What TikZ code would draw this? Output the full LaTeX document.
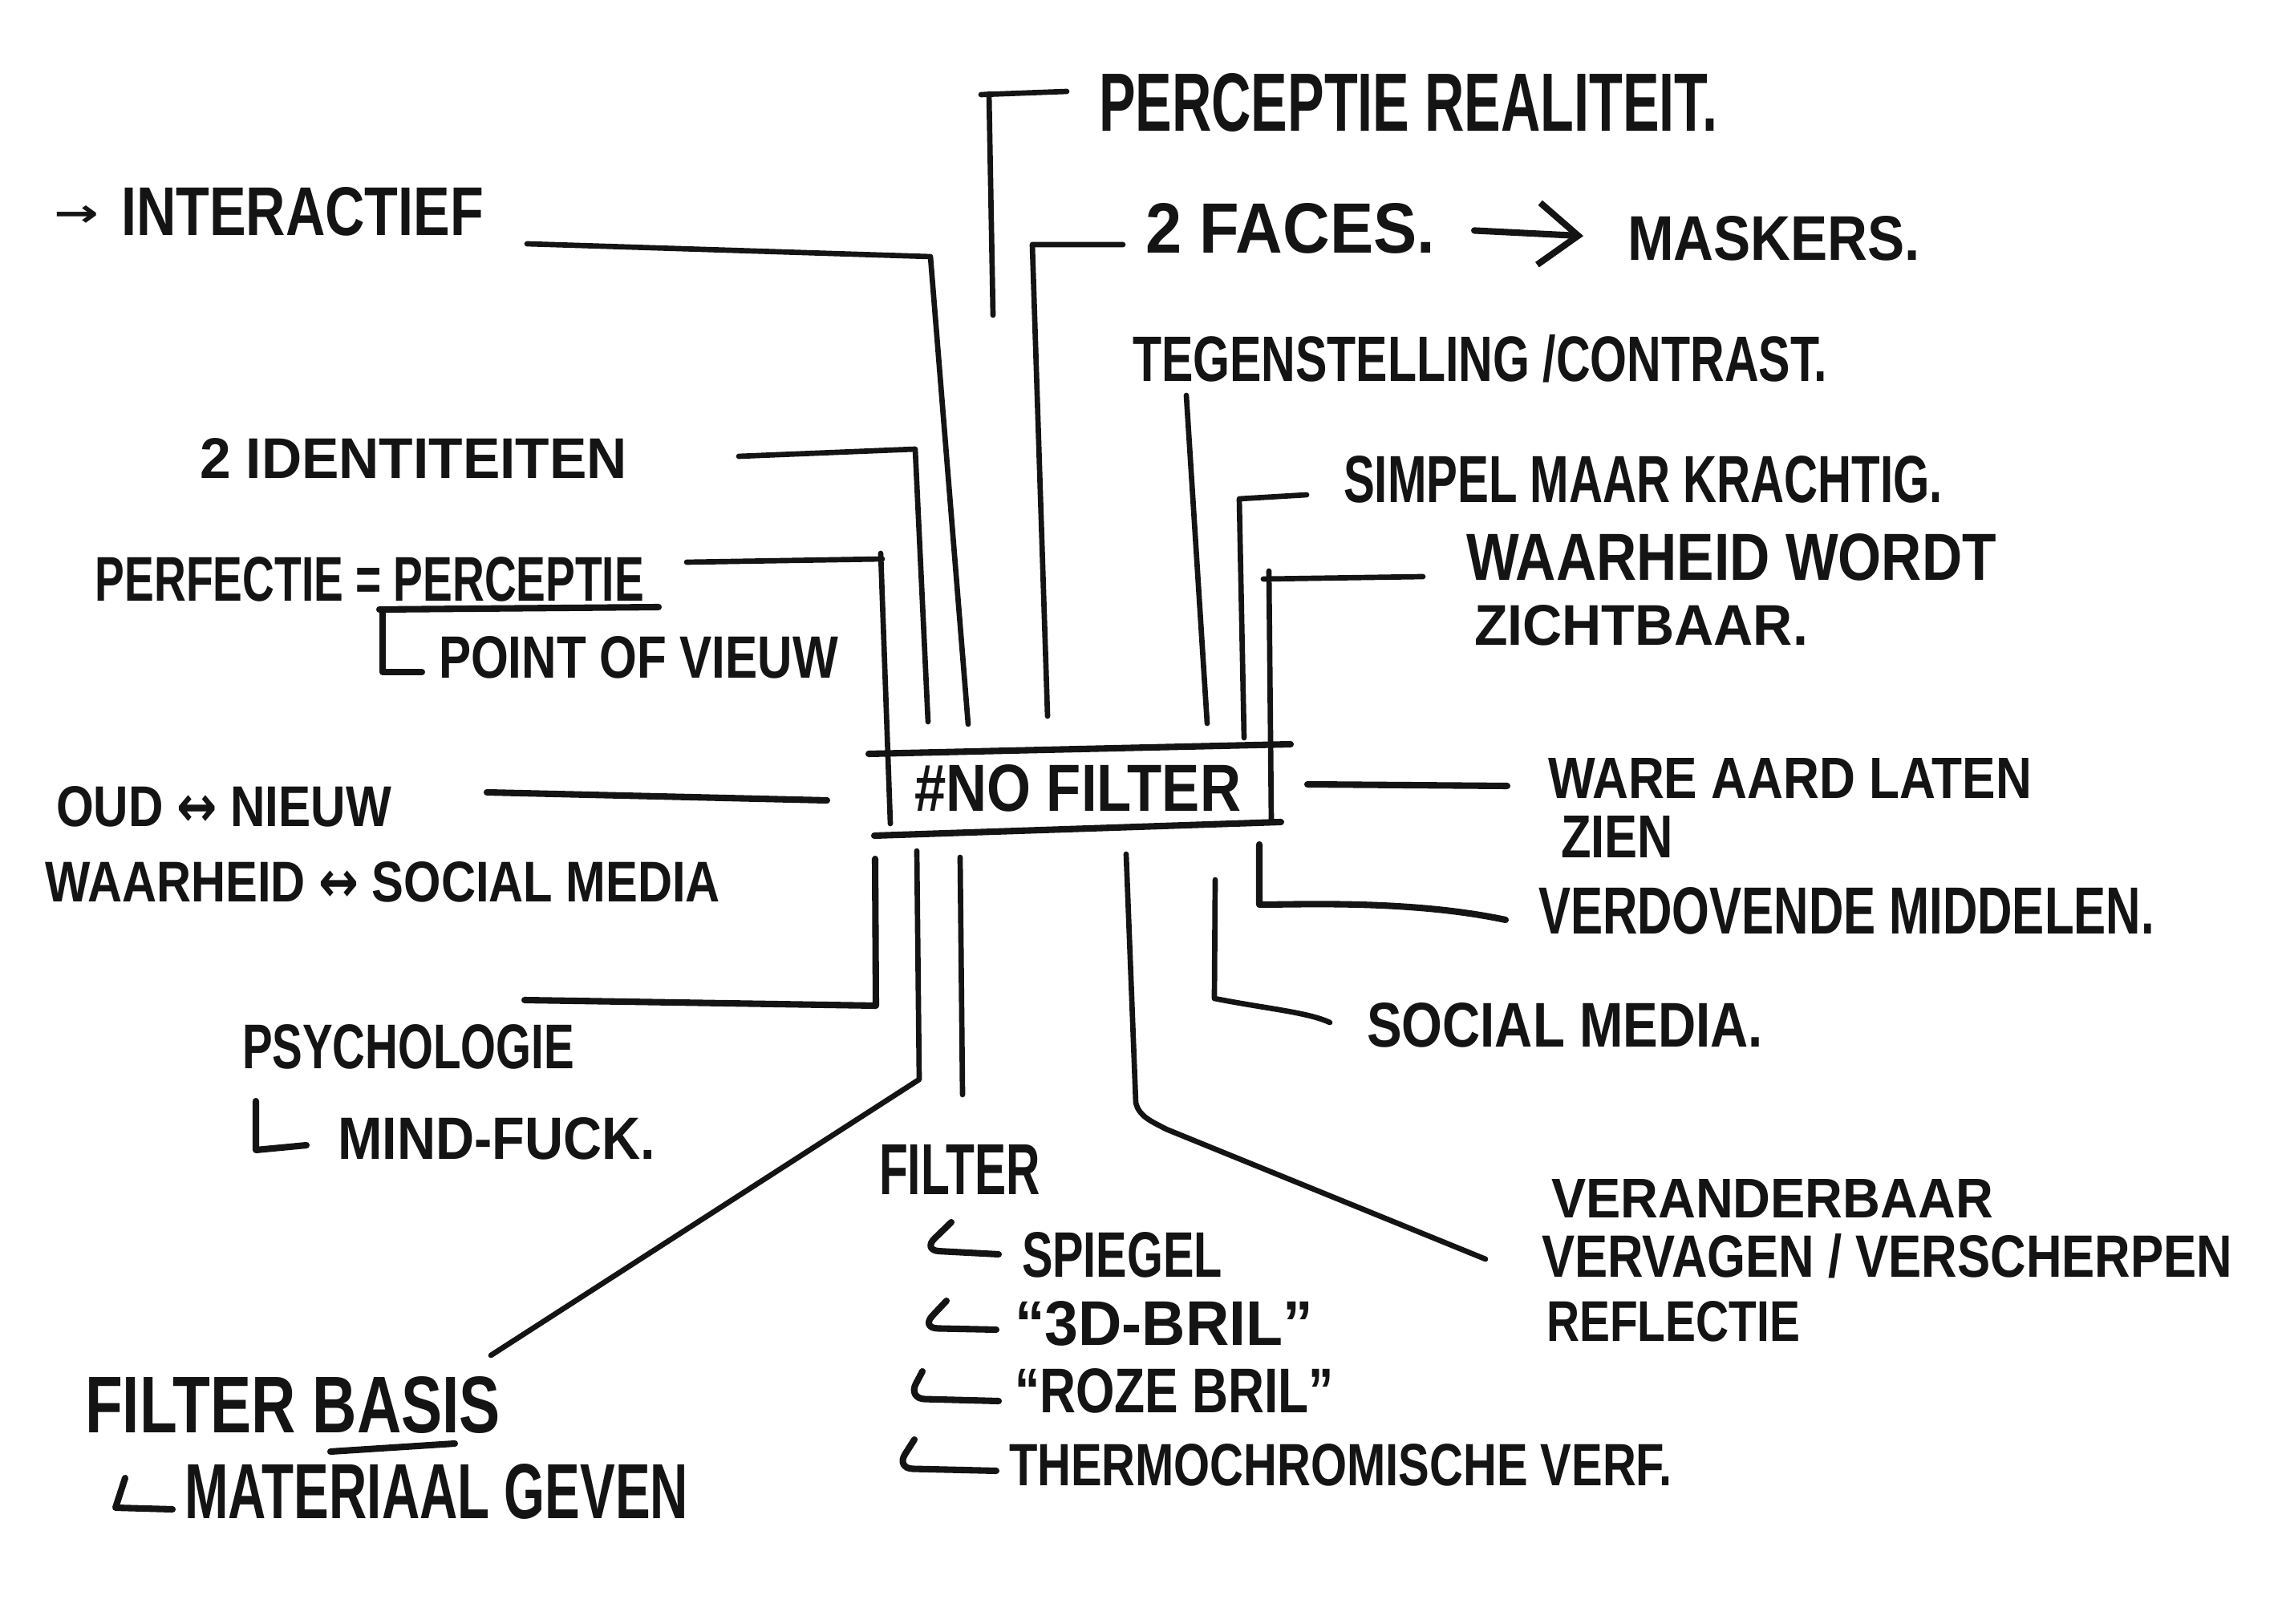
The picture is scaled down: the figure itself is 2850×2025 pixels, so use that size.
\documentclass[tikz,border=0pt]{standalone}
\usepackage{fontspec}
\setmainfont{Liberation Sans}
\newfontfamily\symf{DejaVu Sans}
\usepackage{graphicx}
\usetikzlibrary{arrows.meta}
\newdimen\pxu \pxu=0.01cm
\newcommand\hw[3]{\resizebox{#1\pxu}{#2\pxu}{\bfseries #3}}
\begin{document}
\begin{tikzpicture}[x=0.01cm,y=-0.01cm,
  txt/.style={inner sep=0pt, outer sep=0pt, anchor=west, text=black!92},
  link/.style={line width=2.3pt, line cap=round, line join=round, black!92},
  thin link/.style={line width=1.9pt, line cap=round, line join=round, black!92}]
\useasboundingbox[fill=white] (0,0) rectangle (2850,2025);

% ---------- texts ----------
\node[txt] (arr1) at (67,270) {\hw{56}{26}{\symf →}};
\node[txt] (interactief) at (151,264) {\hw{452}{60}{INTERACTIEF}};
\node[txt] (percreal) at (1370,128) {\hw{771}{72}{PERCEPTIE REALITEIT.}};
\node[txt] (faces) at (1428,285) {\hw{361}{62}{2 FACES.}};
\node[txt] (maskers) at (2029,297) {\hw{365}{55}{MASKERS.}};
\node[txt] (tegen) at (1412,447) {\hw{866}{58}{TEGENSTELLING /CONTRAST.}};
\node[txt] (ident) at (249,572) {\hw{533}{50}{2 IDENTITEITEN}};
\node[txt] (simpel) at (1675,598) {\hw{747}{58}{SIMPEL MAAR KRACHTIG.}};
\node[txt] (waar1) at (1828,695) {\hw{661}{58}{WAARHEID WORDT}};
\node[txt] (waar2) at (1838,780) {\hw{416}{50}{ZICHTBAAR.}};
\node[txt] (perfectie) at (119,722) {\hw{684}{55}{PERFECTIE = PERCEPTIE}};
\node[txt] (pov) at (547,820) {\hw{498}{52}{POINT OF VIEUW}};
\node[txt] (oud) at (70,1006) {\hw{418}{50}{OUD {\symf ↔} NIEUW}};
\node[txt] (waarsoc) at (56,1100) {\hw{842}{50}{WAARHEID {\symf ↔} SOCIAL MEDIA}};
\node[txt] (nofilter) at (1140,983) {\hw{407}{58}{\#NO FILTER}};
\node[txt] (ware1) at (1930,970) {\hw{603}{50}{WARE AARD LATEN}};
\node[txt] (ware2) at (1946,1044) {\hw{140}{52}{ZIEN}};
\node[txt] (verdov) at (1918,1136) {\hw{768}{58}{VERDOVENDE MIDDELEN.}};
\node[txt] (socmed) at (1704,1278) {\hw{494}{55}{SOCIAL MEDIA.}};
\node[txt] (psych) at (302,1305) {\hw{414}{55}{PSYCHOLOGIE}};
\node[txt] (mind) at (421,1420) {\hw{396}{52}{MIND-FUCK.}};
\node[txt] (fbasis) at (106,1752) {\hw{518}{70}{FILTER BASIS}};
\node[txt] (materiaal) at (230,1860) {\hw{628}{68}{MATERIAAL GEVEN}};
\node[txt] (filter) at (1096,1458) {\hw{201}{62}{FILTER}};
\node[txt] (spiegel) at (1274,1565) {\hw{250}{56}{SPIEGEL}};
\node[txt] (bril3d) at (1265,1650) {\hw{372}{55}{“3D-BRIL”}};
\node[txt] (roze) at (1265,1734) {\hw{398}{55}{“ROZE BRIL”}};
\node[txt] (thermo) at (1258,1827) {\hw{827}{52}{THERMOCHROMISCHE VERF.}};
\node[txt] (verand) at (1934,1494) {\hw{551}{48}{VERANDERBAAR}};
\node[txt] (vervagen) at (1922,1566) {\hw{861}{54}{VERVAGEN / VERSCHERPEN}};
\node[txt] (reflectie) at (1928,1648) {\hw{316}{50}{REFLECTIE}};

% ---------- underlines and sub-item brackets ----------
\draw[link] (473,760) -- (821,757);
\draw[link] (477,764) -- (477,838) -- (526,838);
\draw[link] (412,1810) -- (567,1800);
\draw[link] (319,1373) -- (319,1434) -- (382,1428);
\draw[link] (156,1843) -- (144,1880) -- (215,1882);
\draw[link, rounded corners=6pt] (1186,1524) -- (1150,1559) -- (1245,1564);
\draw[link, rounded corners=6pt] (1180,1622) -- (1148,1656) -- (1242,1658);
\draw[link, rounded corners=6pt] (1150,1710) -- (1132,1744) -- (1245,1747);
\draw[link, rounded corners=6pt] (1140,1795) -- (1117,1831) -- (1242,1834);

% ---------- arrow between 2 FACES and MASKERS ----------
\draw[link, -{Straight Barb[length=14pt, width=22pt, line width=2.3pt]}, shorten <=0.49cm, shorten >=0.55cm]
  (faces.east) -- (maskers.west);

% ---------- central box ----------
\draw[link] (1083,940) -- (1609,928);
\draw[link] (1090,1042) -- (1597,1025);

% ---------- connectors ----------
\coordinate (i1) at (657,304);  \coordinate (i3) at (1207,903);
\draw[thin link] (i1) -- (1160,320) -- (i3);

\coordinate (r1) at (1330,114); \coordinate (r3) at (1238,393);
\draw[thin link] (r1) -- (1223,118);
\draw[thin link] (1233,117) -- (r3);

\coordinate (f1) at (1400,305); \coordinate (f3) at (1306,893);
\draw[thin link] (f1) -- (1287,305) -- (f3);

\coordinate (t1) at (1479,493); \coordinate (t2) at (1505,902);
\draw[thin link] (t1) -- (t2);

\coordinate (s1) at (1629,617); \coordinate (s3) at (1551,920);
\draw[thin link] (s1) -- (1545,622) -- (s3);

\coordinate (w1) at (1774,719); \coordinate (w2) at (1575,722);
\draw[thin link] (w1) -- (w2);
\coordinate (w3) at (1582,712); \coordinate (w4) at (1585,1025);
\draw[thin link] (w3) -- (w4);

\coordinate (d1) at (921,569); \coordinate (d3) at (1157,900);
\draw[thin link] (d1) -- (1141,560) -- (d3);

\coordinate (p1) at (856,701); \coordinate (p2) at (1100,697);
\draw[thin link] (p1) -- (p2);
\coordinate (p3) at (1098,690); \coordinate (p4) at (1110,1027);
\draw[thin link] (p3) -- (p4);

\coordinate (o1) at (607,988); \coordinate (o2) at (1031,998);
\draw[link] (o1) -- (o2);

\coordinate (a1) at (1630,978); \coordinate (a2) at (1879,980);
\draw[link] (a1) -- (a2);

\coordinate (v1) at (1570,1053); \coordinate (v3) at (1877,1147);
\draw[link] (v1) -- (1570,1128) .. controls (1620,1128) and (1760,1122) .. (v3);

\coordinate (m1) at (1515,1097); \coordinate (m3) at (1658,1275);
\draw[thin link] (m1) -- (1514,1245) .. controls (1580,1258) and (1630,1262) .. (m3);

\coordinate (y1) at (1091,1071); \coordinate (y3) at (654,1247);
\draw[link] (y1) -- (1092,1254) -- (y3);

\coordinate (b1) at (1143,1061); \coordinate (b3) at (612,1690);
\draw[thin link] (b1) -- (1146,1346) -- (b3);

\coordinate (c1) at (1197,1069); \coordinate (c2) at (1200,1365);
\draw[thin link] (c1) -- (c2);

\coordinate (e1) at (1404,1065); \coordinate (e3) at (1852,1570);
\draw[thin link] (e1) -- (1416,1375) .. controls (1420,1392) and (1435,1398) .. (1454,1408) -- (e3);

\end{tikzpicture}
\end{document}
